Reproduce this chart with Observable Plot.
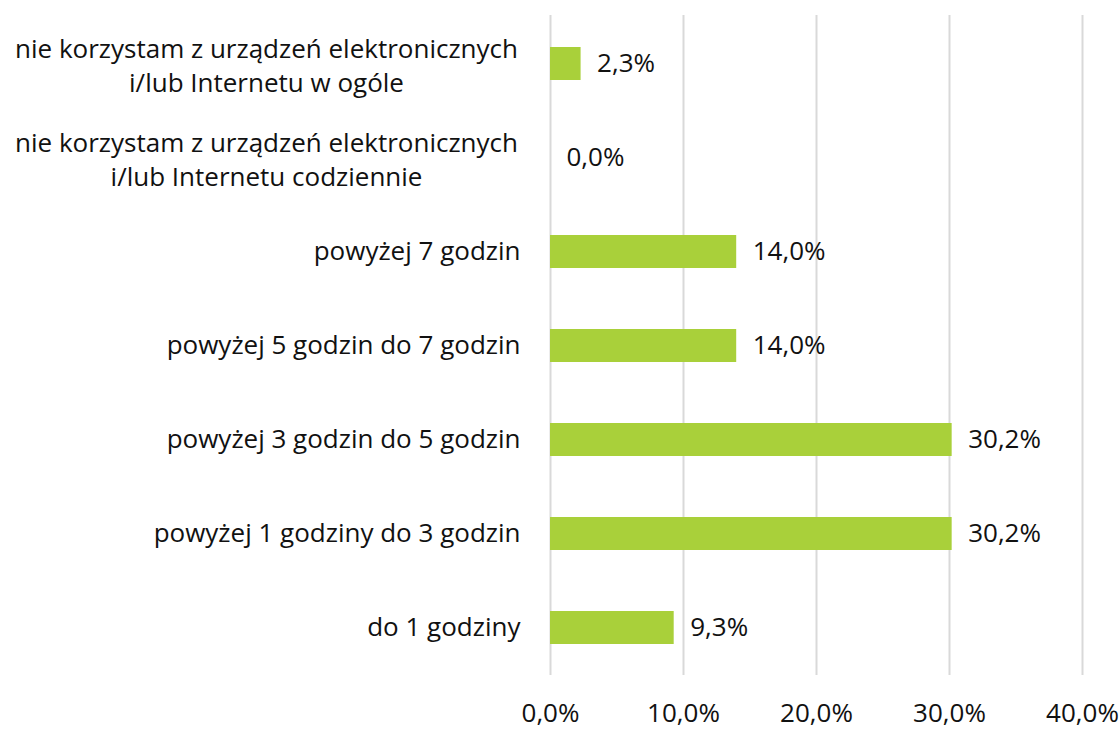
<!DOCTYPE html>
<html>
<head>
<meta charset="utf-8">
<script src="https://cdn.jsdelivr.net/npm/d3@7"></script>
<script src="https://cdn.jsdelivr.net/npm/@observablehq/plot@0.6"></script>
<style>
  html, body { margin: 0; padding: 0; background: #fff; }
  svg { display: block; }
</style>
</head>
<body>
<div id="chart"></div>
<script>
const categories = [
  "nie korzystam z urządzeń elektronicznych\ni/lub Internetu w ogóle",
  "nie korzystam z urządzeń elektronicznych\ni/lub Internetu codziennie",
  "powyżej 7 godzin",
  "powyżej 5 godzin do 7 godzin",
  "powyżej 3 godzin do 5 godzin",
  "powyżej 1 godziny do 3 godzin",
  "do 1 godziny"
];
const values = [2.3, 0.0, 14.0, 14.0, 30.2, 30.2, 9.3];
const xTicks = [0, 10, 20, 30, 40];

const data = categories.map((c, i) => ({category: c, value: values[i]}));
const fmt = v => v.toFixed(1).replace(".", ",") + "%";
const font = "'Open Sans', 'Noto Sans', sans-serif";
const fs = 26;

const chart = Plot.plot({
  width: 1120,
  height: 729,
  marginLeft: 550,
  marginRight: 38,
  marginTop: 15,
  marginBottom: 54,
  style: {fontFamily: font, fontSize: fs + "px", color: "#111", background: "#fff", overflow: "visible"},
  x: {domain: [0, 40], ticks: xTicks, tickFormat: fmt, label: null},
  y: {domain: categories, paddingInner: 0.65, paddingOuter: 0.325, label: null, axis: null},
  marks: [
    Plot.gridX(xTicks, {stroke: "#d9d9d9", strokeOpacity: 1, strokeWidth: 2}),
    Plot.axisX({ticks: xTicks, tickFormat: fmt, tickSize: 0, tickPadding: 28, fontSize: fs, label: null}),
    Plot.barX(data, {x: "value", y: "category", fill: "#a9d03a"}),
    Plot.text(data, {x: "value", y: "category", text: d => fmt(d.value), textAnchor: "start", dx: 16, fontSize: fs, fill: "#111"}),
    Plot.text(data.filter(d => !d.category.includes("\n")), {
      x: () => 0, y: "category", text: "category", textAnchor: "end", dx: -30, fontSize: fs, fill: "#111"
    }),
    Plot.text(data.filter(d => d.category.includes("\n")), {
      x: () => 0, y: "category", text: "category", textAnchor: "middle", dx: -284, fontSize: fs, lineHeight: 1.32, fill: "#111"
    })
  ]
});
document.getElementById("chart").appendChild(chart);
</script>
</body>
</html>
